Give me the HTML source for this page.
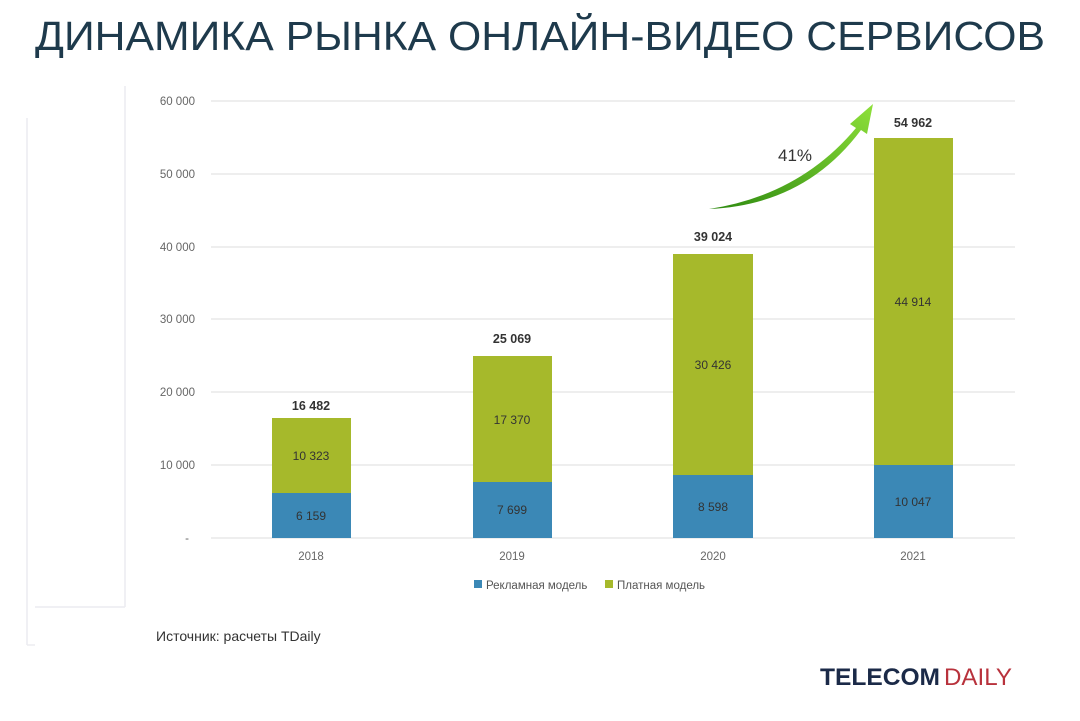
<!DOCTYPE html>
<html><head><meta charset="utf-8"><style>
body{margin:0;width:1080px;height:716px;background:#fff;overflow:hidden;font-family:"Liberation Sans",sans-serif;}
</style></head><body>
<svg width="1080" height="716" xmlns="http://www.w3.org/2000/svg" font-family="Liberation Sans, sans-serif">
<defs><linearGradient id="g" x1="0" y1="1" x2="1" y2="0"><stop offset="0" stop-color="#2e8a10"/><stop offset="1" stop-color="#8ee03a"/></linearGradient></defs>
<text x="540" y="50" text-anchor="middle" font-size="41" fill="#1e3a4c" textLength="1010" lengthAdjust="spacingAndGlyphs">ДИНАМИКА РЫНКА ОНЛАЙН-ВИДЕО СЕРВИСОВ</text>
<g stroke="#ececf0" stroke-width="1.5" fill="none">
<line x1="27" y1="118" x2="27" y2="645"/><line x1="125" y1="86" x2="125" y2="607"/>
<line x1="35" y1="607" x2="125" y2="607"/><line x1="27" y1="645" x2="35" y2="645"/>
</g>
<g stroke="#e3e3e3" stroke-width="1.3">
<line x1="211" y1="101" x2="1015" y2="101"/><line x1="211" y1="174" x2="1015" y2="174"/>
<line x1="211" y1="247" x2="1015" y2="247"/><line x1="211" y1="319" x2="1015" y2="319"/>
<line x1="211" y1="392" x2="1015" y2="392"/><line x1="211" y1="465" x2="1015" y2="465"/>
<line x1="211" y1="538" x2="1015" y2="538"/>
</g>
<g font-size="11.5" fill="#666" text-anchor="end">
<text x="195" y="105">60 000</text><text x="195" y="178">50 000</text><text x="195" y="251">40 000</text>
<text x="195" y="323">30 000</text><text x="195" y="396">20 000</text><text x="195" y="469">10 000</text><text x="189" y="542">-</text>
</g>
<g fill="#3b88b6"><rect x="272" y="493" width="79" height="45"/><rect x="473" y="482" width="79" height="56"/><rect x="673" y="475" width="80" height="63"/><rect x="874" y="465" width="79" height="73"/></g>
<g fill="#a6b92b"><rect x="272" y="418" width="79" height="75"/><rect x="473" y="356" width="79" height="126"/><rect x="673" y="254" width="80" height="221"/><rect x="874" y="138" width="79" height="327"/></g>
<g font-size="12" fill="#333" text-anchor="middle">
<text x="311" y="520">6 159</text><text x="512" y="514">7 699</text><text x="713" y="511">8 598</text><text x="913" y="506">10 047</text>
<text x="311" y="460">10 323</text><text x="512" y="424">17 370</text><text x="713" y="369">30 426</text><text x="913" y="306">44 914</text>
</g>
<g font-size="12.5" font-weight="bold" fill="#333" text-anchor="middle">
<text x="311" y="410">16 482</text><text x="512" y="343">25 069</text><text x="713" y="241">39 024</text><text x="913" y="127">54 962</text>
</g>
<g font-size="11.5" fill="#666" text-anchor="middle">
<text x="311" y="560">2018</text><text x="512" y="560">2019</text><text x="713" y="560">2020</text><text x="913" y="560">2021</text>
</g>
<rect x="474" y="580" width="8" height="8" fill="#3b88b6"/><text x="486" y="589" font-size="11.5" fill="#555">Рекламная модель</text>
<rect x="605" y="580" width="8" height="8" fill="#a6b92b"/><text x="617" y="589" font-size="11.5" fill="#555">Платная модель</text>
<path d="M709 209 Q800 195 856 128 L850 124 L873 104 L867 134 L861 130 Q805 205 709 209 Z" fill="url(#g)"/>
<text x="778" y="161" font-size="17" fill="#333">41%</text>
<text x="156" y="641" font-size="14" fill="#333">Источник: расчеты TDaily</text>
<text x="820" y="685" font-size="24" font-weight="bold" fill="#1b2a48" textLength="120" lengthAdjust="spacingAndGlyphs">TELECOM</text>
<text x="944" y="685" font-size="24" fill="#b8323c" textLength="68" lengthAdjust="spacingAndGlyphs">DAILY</text>
</svg>
</body></html>
